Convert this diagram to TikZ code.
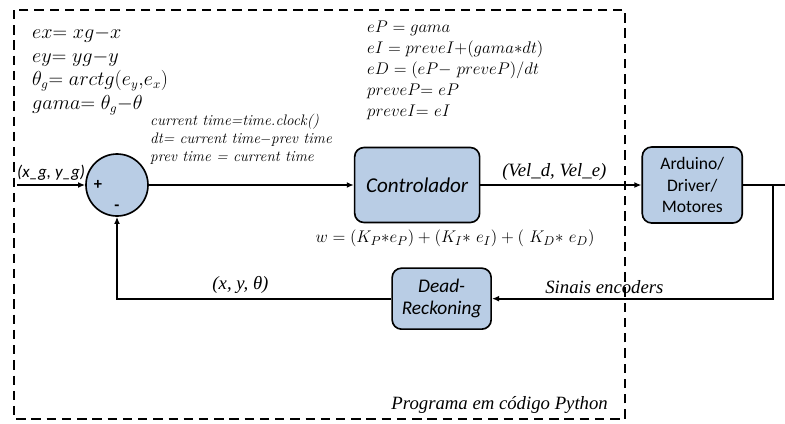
\documentclass[tikz,border=0pt]{standalone}
\usepackage{fontspec}
\newfontfamily\calibri{Carlito}
\newfontfamily\tnrfont{Liberation Serif}
\usetikzlibrary{positioning, arrows.meta}
\definecolor{boxblue}{RGB}{185,205,229}

\begin{document}
\begin{tikzpicture}[
    block/.style={draw, fill=boxblue, rounded corners=8pt, line width=1.4pt, align=center, inner sep=2pt},
    sumnode/.style={draw, circle, fill=boxblue, line width=1.4pt, minimum size=1.86cm, inner sep=0pt},
    arrow/.style={-{Latex[length=6pt, width=5pt]}, line width=1.6pt},
    wire/.style={line width=1.6pt},
    eqn/.style={align=left, anchor=north west, inner sep=0pt},
    lbl/.style={font=\tnrfont\itshape\fontsize{16}{18}\selectfont},
]

% Frame
\useasboundingbox (0,0) rectangle (23.55,-12.69);
\draw[line width=1.4pt, dash pattern=on 8pt off 5pt] (0.42,-0.30) rectangle (18.75,-12.57);

% Nodes
\node[sumnode] (sum) at (3.51,-5.55) {};
\node[font=\calibri\bfseries\fontsize{14}{14}\selectfont] (plus) at ([xshift=-0.57cm]sum.center) {+};
\node[font=\calibri\bfseries\fontsize{14}{14}\selectfont] (minus) at ([yshift=-0.69cm]sum.center) {-};
\node[block, minimum width=3.75cm, minimum height=2.25cm, right=6.15cm of sum,
      font=\calibri\itshape\fontsize{18}{20}\selectfont] (ctrl) {Controlador};
\node[block, minimum width=3cm, minimum height=2.28cm, right=4.83cm of ctrl,
      font=\calibri\fontsize{15}{18}\selectfont] (hw) {Arduino/\\Driver/\\Motores};
\node[block, minimum width=2.97cm, minimum height=1.83cm,
      font=\calibri\itshape\fontsize{16.5}{18.5}\selectfont] (dr) at (13.25,-8.96) {Dead-\\Reckoning};

% Equations
\node[eqn, font=\fontsize{16}{20}\selectfont] (angle) at (0.96,-0.80) {%
  $ex{=}\ xg{-}x$\\
  $ey{=}\ yg{-}y$\\
  $\theta_g{=}\ arctg(e_y{,}e_x)$\\
  $gama{=}\ \theta_g{-}\theta$};
\node[eqn, font=\fontsize{14}{18}\selectfont] (errors) at (11.01,-0.62) {%
  $eP = gama$\\
  $eI = preveI{+}(gama{\ast}dt)$\\
  $eD = (eP{-}\ preveP)/dt$\\
  $preveP{=}\ eP$\\
  $preveI{=}\ eI$};
\node[eqn, font=\itshape\fontsize{13}{15.3}\selectfont] (timing) at (4.50,-3.42) {%
  current time=time.clock()\\
  dt= current time$-$prev time\\
  prev time = current time};
\node[font=\fontsize{15}{18}\selectfont] (pid) at (13.65,-7.14)
  {$w = (K_P {\ast} e_P) + (K_I{\ast}\ e_I) + (\ K_D{\ast}\ e_D)$};
\node[lbl, anchor=east] (prog) at (18.36,-12.15) {Programa em código Python};

% Coordinates
\coordinate (in) at (0.51,-5.55);
\coordinate (tap) at (23.19,0 |- hw.east);
\coordinate (out) at (23.55,0 |- hw.east);
\coordinate (tapd) at (tap |- dr);
\coordinate (fbk) at (sum |- dr);

% Connectors
\draw[arrow] (in) -- (sum) node[midway, above, font=\calibri\itshape\fontsize{14.5}{16}\selectfont] {(x\_g, y\_g)};
\draw[arrow] (sum) -- (ctrl);
\draw[arrow] (ctrl) -- (hw) node[midway, above, xshift=-0.2cm, lbl] {(Vel\_d, Vel\_e)};
\draw[wire] (hw) -- (out);
\draw[arrow] (tap) -- (tapd) -- (dr) node[pos=0.6, above, lbl] {Sinais encoders};
\draw[arrow] (dr) -- (fbk) node[pos=0.55, above, lbl] {(x, y, θ)} -- (sum);

\end{tikzpicture}
\end{document}
